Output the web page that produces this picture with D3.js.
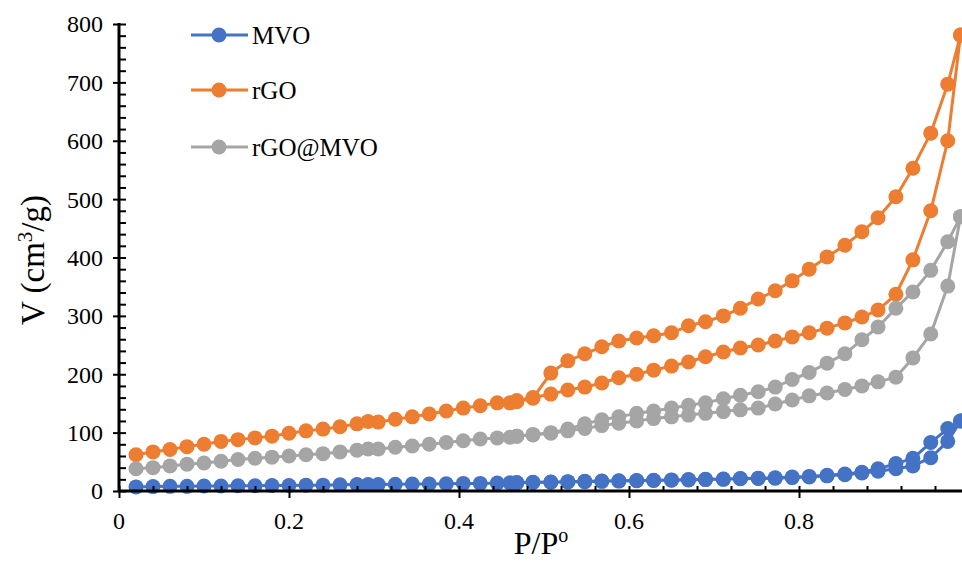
<!DOCTYPE html>
<html>
<head>
<meta charset="utf-8">
<script src="https://cdn.jsdelivr.net/npm/d3@7"></script>
<style>
  body { margin: 0; background: white; }
  text { font-family: "Liberation Serif", "Times New Roman", serif; fill: black; }
</style>
</head>
<body>
<div id="chart"></div>
<script>
var width = 962;
var height = 562;

var seriesNames = ["MVO", "rGO", "rGO@MVO"];
var seriesColors = ["#4472C4", "#ED7D31", "#A5A5A5"];

// relative pressure of the adsorption and desorption points
var adsP = [0.02, 0.04, 0.06, 0.08, 0.10, 0.12, 0.14, 0.16, 0.18, 0.20, 0.22, 0.24, 0.26, 0.28, 0.293, 0.305,
    0.325, 0.345, 0.365, 0.385, 0.405, 0.425, 0.445, 0.46, 0.468, 0.487, 0.508, 0.528, 0.548, 0.568, 0.588,
    0.609, 0.629, 0.65, 0.67, 0.69, 0.711, 0.731, 0.752, 0.772, 0.792, 0.812, 0.833, 0.854, 0.874, 0.893,
    0.914, 0.934, 0.955, 0.975, 0.99];
var desP = [0.99, 0.975, 0.955, 0.934, 0.914, 0.893, 0.874, 0.854, 0.833, 0.812, 0.792, 0.772, 0.752, 0.731,
    0.711, 0.69, 0.67, 0.65, 0.629, 0.609, 0.588, 0.568, 0.548, 0.528, 0.508, 0.487, 0.468];

var mvoAds = [7, 7.5, 8, 8, 8.5, 8.5, 9, 9, 9.5, 9.5, 10, 10, 10.5, 11, 11, 11, 11.5, 12, 12, 12.5, 13, 13, 13.5,
    14, 14, 14.5, 15, 15.5, 16, 16.5, 17, 17.5, 18, 18.5, 19, 19.5, 20, 21, 21.5, 22, 23, 24, 26, 28, 31, 34, 38,
    43, 57, 85, 120];
var mvoDes = [120, 107, 83, 56, 47, 38, 32, 29, 27, 25, 24, 22.5, 22, 21.5, 20.5, 20, 19.5, 19, 18.5, 18, 17.5,
    17, 16.5, 16, 15.5, 15, 14.5];

var rgoAds = [62, 67, 71, 76, 80, 85, 88, 91, 94, 99, 103, 106, 110, 115, 119, 118, 123, 127, 132, 137, 142, 146,
    151, 151, 155, 160, 166, 173, 178, 185, 194, 200, 207, 214, 221, 230, 238, 245, 250, 257, 264, 271, 279, 288,
    298, 310, 337, 396, 480, 600, 781];
var rgoDes = [781, 697, 613, 553, 504, 468, 444, 421, 401, 380, 360, 343, 329, 313, 300, 290, 283, 271, 266, 262,
    257, 247, 235, 223, 202, 159, 153];

var compAds = [38, 40, 43, 46, 48, 51, 54, 56, 58, 60, 62, 64, 67, 70, 72, 72, 75, 77, 80, 83, 86, 89, 91, 92, 94,
    96, 99, 103, 107, 112, 116, 120, 124, 127, 130, 133, 136, 139, 142, 149, 156, 163, 168, 174, 180, 187, 195,
    228, 269, 351, 470];
var compDes = [470, 427, 378, 341, 313, 281, 259, 235, 219, 203, 191, 178, 170, 164, 158, 151, 147, 142, 137, 133,
    127, 122, 115, 106, 100, 97, 94];

var xMajor = [0, 0.2, 0.4, 0.6, 0.8];
var yMajor = [0, 100, 200, 300, 400, 500, 600, 700, 800];

var adsValues = [mvoAds, rgoAds, compAds];
var desValues = [mvoDes, rgoDes, compDes];

var series = seriesNames.map(function(name, i) {
    var pts = adsP.map(function(p, j) { return { p: p, v: adsValues[i][j] }; })
        .concat(desP.map(function(p, j) { return { p: p, v: desValues[i][j] }; }));
    return { name: name, color: seriesColors[i], points: pts };
});

var x = d3.scaleLinear().domain([0, 1]).range([119, 969]);
var y = d3.scaleLinear().domain([0, 800]).range([491, 24]);

var canvas = d3.select("#chart")
    .append("svg")
    .attr("width", width)
    .attr("height", height)

canvas.append("rect")
    .attr("width", width)
    .attr("height", height)
    .attr("fill", "white")

var line = d3.line()
    .x(function(d) { return x(d.p); })
    .y(function(d) { return y(d.v); })

var groups = canvas.selectAll(".series")
    .data(series)
    .enter().append("g")
    .attr("class", "series")

groups.append("path")
    .attr("d", function(d) { return line(d.points); })
    .attr("fill", "none")
    .attr("stroke", function(d) { return d.color; })
    .attr("stroke-width", 3)
    .attr("stroke-linejoin", "round")

groups.each(function(s) {
    d3.select(this).selectAll("circle")
        .data(s.points)
        .enter().append("circle")
        .attr("cx", function(d) { return x(d.p); })
        .attr("cy", function(d) { return y(d.v); })
        .attr("r", 7.5)
        .attr("fill", s.color)
})

// y axis: crossing major ticks, inside minor ticks
var yAxis = canvas.append("g").attr("class", "yAxis");
yAxis.append("g")
    .attr("transform", "translate(113, 0)")
    .call(d3.axisRight(y).tickValues(d3.range(0, 801, 20)).tickSize(13).tickFormat(""))
    .call(function(g) {
        g.select(".domain").remove();
        g.selectAll(".tick")
            .filter(function(d) { return d % 100 !== 0; })
            .select("line")
            .attr("x1", 7)
            .attr("x2", 13);
        g.selectAll(".tick line").attr("stroke", "black").attr("stroke-width", 2);
    })
yAxis.append("line")
    .attr("x1", x(0)).attr("x2", x(0))
    .attr("y1", y(800) - 1).attr("y2", y(0) + 1)
    .attr("stroke", "black")
    .attr("stroke-width", 3)
yAxis.selectAll(".ylabel")
    .data(yMajor)
    .enter().append("text")
    .attr("class", "ylabel")
    .attr("x", 103)
    .attr("y", function(d) { return y(d); })
    .attr("dy", "0.35em")
    .attr("text-anchor", "end")
    .style("font-size", "24px")
    .text(function(d) { return d; })

// x axis: crossing major ticks, inside minor ticks
var xAxis = canvas.append("g").attr("class", "xAxis");
xAxis.append("g")
    .attr("transform", "translate(0, 486)")
    .call(d3.axisBottom(x).tickValues(d3.range(0, 25).map(function(i) { return i * 0.04; })).tickSize(12).tickFormat(""))
    .call(function(g) {
        g.select(".domain").remove();
        g.selectAll(".tick")
            .filter(function(d, i) { return i % 5 !== 0; })
            .select("line")
            .attr("y1", 0)
            .attr("y2", 5);
        g.selectAll(".tick line").attr("stroke", "black").attr("stroke-width", 2);
    })
xAxis.append("line")
    .attr("x1", x(0) - 1).attr("x2", width)
    .attr("y1", y(0)).attr("y2", y(0))
    .attr("stroke", "black")
    .attr("stroke-width", 3)
xAxis.selectAll(".xlabel")
    .data(xMajor)
    .enter().append("text")
    .attr("class", "xlabel")
    .attr("x", function(d) { return x(d); })
    .attr("y", 529)
    .attr("text-anchor", "middle")
    .style("font-size", "24px")
    .text(function(d) { return d === 0 ? "0" : d.toFixed(1); })

// axis titles
var yTitle = canvas.append("text")
    .attr("transform", "translate(44, 260) rotate(-90)")
    .attr("text-anchor", "middle")
    .style("font-size", "33px")
yTitle.append("tspan").text("V (cm")
yTitle.append("tspan").attr("dy", -12).style("font-size", "21px").text("3")
yTitle.append("tspan").attr("dy", 12).text("/g)")

var xTitle = canvas.append("text")
    .attr("x", 541)
    .attr("y", 554)
    .attr("text-anchor", "middle")
    .style("font-size", "32px")
xTitle.append("tspan").text("P/P")
xTitle.append("tspan").attr("dy", -12).style("font-size", "20px").text("o")

// legend
var legendY = [35, 90, 147];
var legend = canvas.selectAll(".legend")
    .data(series)
    .enter().append("g")
    .attr("class", "legend")
    .attr("transform", function(d, i) { return "translate(0," + legendY[i] + ")"; })

legend.append("line")
    .attr("x1", 191).attr("x2", 248)
    .attr("stroke", function(d) { return d.color; })
    .attr("stroke-width", 3)
legend.append("circle")
    .attr("cx", 219)
    .attr("r", 7.5)
    .attr("fill", function(d) { return d.color; })
legend.append("text")
    .attr("x", 252)
    .attr("y", 9)
    .style("font-size", "25px")
    .text(function(d) { return d.name; })
</script>
</body>
</html>
